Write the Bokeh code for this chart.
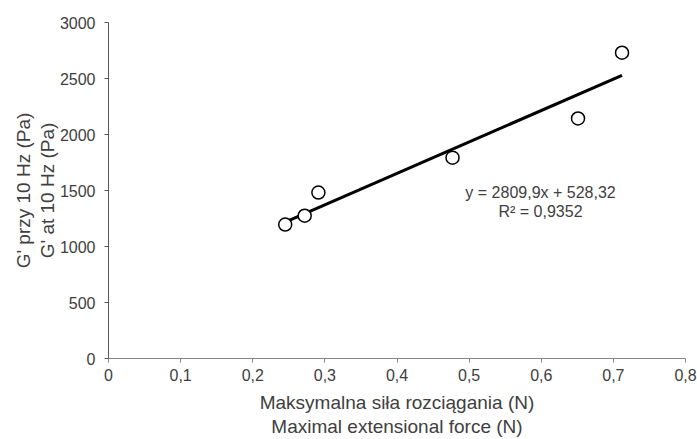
from bokeh.plotting import figure
from bokeh.models import Label, FixedTicker, CustomJSTickFormatter, Range1d
from bokeh.embed import file_html
from bokeh.resources import INLINE

# Data
force_N = [0.245, 0.272, 0.291, 0.477, 0.651, 0.712]
g_prime_Pa = [1196, 1275, 1482, 1793, 2143, 2730]
slope = 2809.9
intercept = 528.32
equation_text = "y = 2809,9x + 528,32"
r2_text = "R² = 0,9352"
x_ticks = [0, 0.1, 0.2, 0.3, 0.4, 0.5, 0.6, 0.7, 0.8]
y_ticks = [0, 500, 1000, 1500, 2000, 2500, 3000]
x_title = "Maksymalna siła rozciągania (N)\nMaximal extensional force (N)"
y_title = "G' przy 10 Hz (Pa)\nG' at 10 Hz (Pa)"

FONT = "Liberation Sans"
TXT = "#404040"

p = figure(width=697, height=439, output_backend="svg", toolbar_location=None,
           x_range=Range1d(0, 0.8), y_range=Range1d(0, 3000),
           min_border_left=108, min_border_right=12, min_border_top=22, min_border_bottom=81)
p.outline_line_color = None
p.xgrid.grid_line_color = None
p.ygrid.grid_line_color = None

for ax in (p.xaxis[0], p.yaxis[0]):
    ax.major_label_text_font = FONT
    ax.major_label_text_font_size = "16px"
    ax.major_label_text_color = TXT
    ax.axis_label_text_font = FONT
    ax.axis_label_text_font_size = "19px"
    ax.axis_label_text_font_style = "normal"
    ax.axis_label_text_color = TXT
    ax.axis_label_text_line_height = 1.15
    ax.major_tick_in = 0
    ax.major_tick_out = 4
    ax.minor_tick_line_color = None

p.xaxis.ticker = FixedTicker(ticks=x_ticks)
p.yaxis.ticker = FixedTicker(ticks=y_ticks)
p.xaxis.formatter = CustomJSTickFormatter(code="""
    if (Math.abs(tick) < 1e-9) return '0';
    return tick.toFixed(1).replace('.', ',');
""")
p.xaxis.axis_line_color = "#868686"
p.xaxis.major_tick_line_color = "#868686"
p.yaxis.axis_line_color = "#595959"
p.yaxis.major_tick_line_color = "#595959"
p.xaxis.major_label_standoff = 6
p.yaxis.major_label_standoff = 9
p.xaxis.axis_label = x_title
p.yaxis.axis_label = y_title
p.xaxis.axis_label_standoff = 8
p.yaxis.axis_label_standoff = -1

# trend line
x0, x1 = min(force_N), max(force_N)
p.line([x0, x1], [slope * x0 + intercept, slope * x1 + intercept],
       line_color="black", line_width=3)

p.scatter(force_N, g_prime_Pa, marker="circle", size=13,
          fill_color="white", line_color="black", line_width=1.5)

p.add_layout(Label(x=0.599, y=1482, text=equation_text, text_align="center",
                   text_baseline="middle", text_font=FONT, text_font_size="16px",
                   text_color=TXT))
p.add_layout(Label(x=0.599, y=1312, text=r2_text, text_align="center",
                   text_baseline="middle", text_font=FONT, text_font_size="16px",
                   text_color=TXT))

open("out.html", "w").write(file_html(p, INLINE))
